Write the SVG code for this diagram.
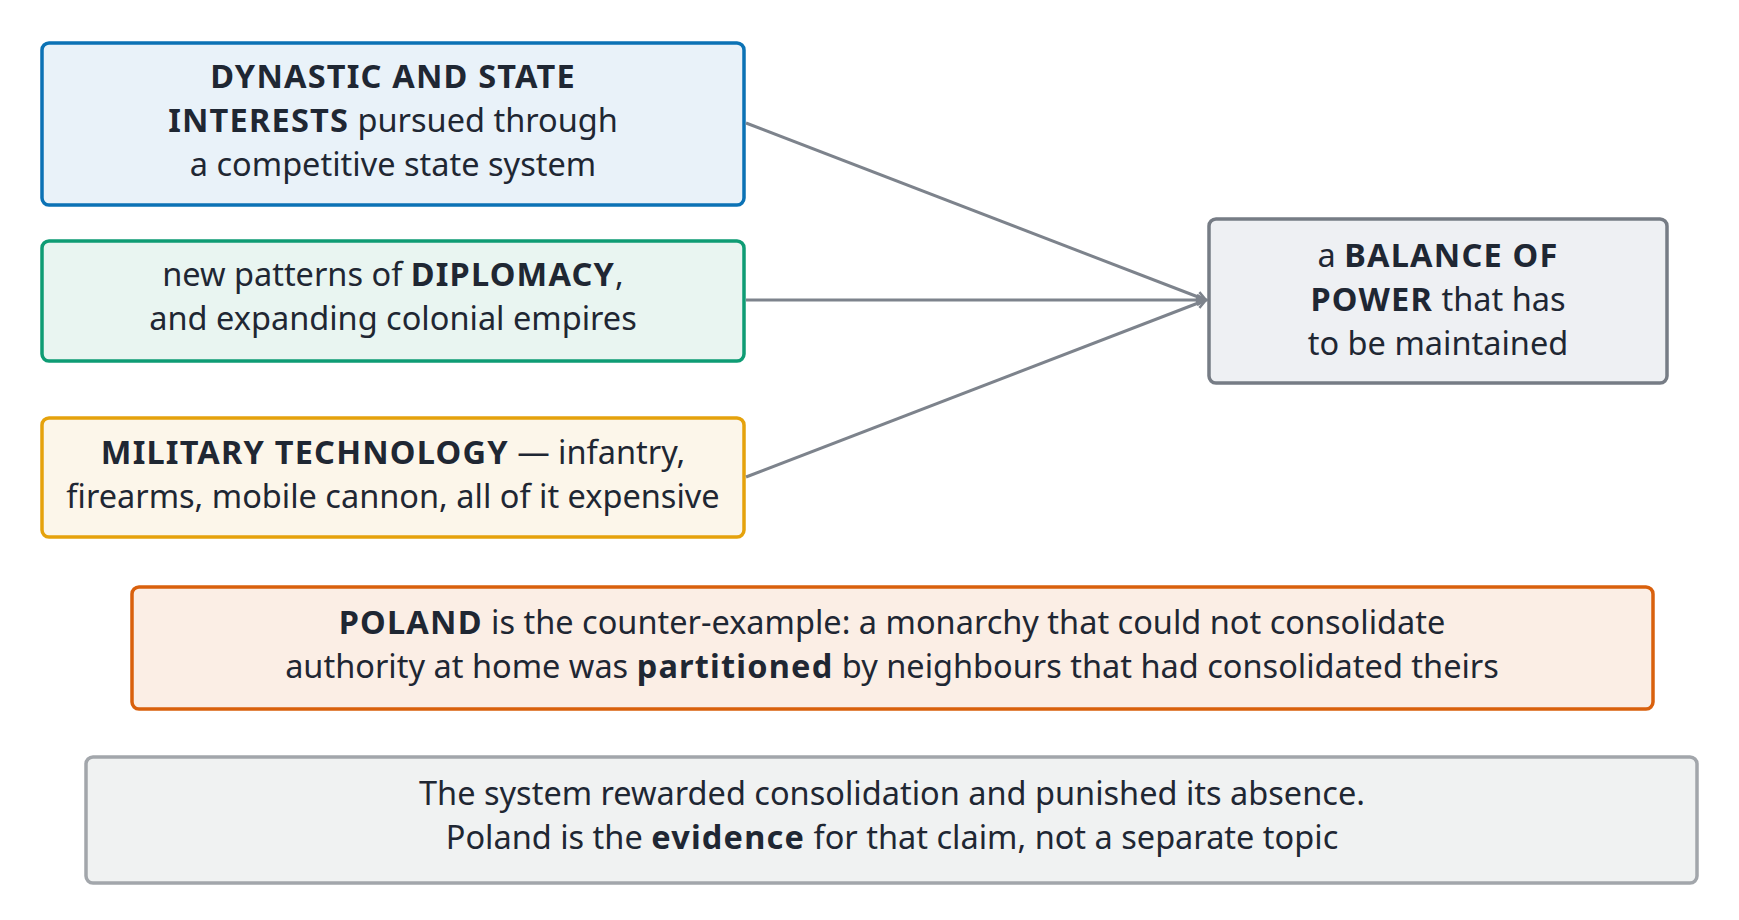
<svg xmlns="http://www.w3.org/2000/svg" width="1739" height="920" viewBox="0 0 1739 920">
<style>
text{font-family:"Noto Sans","Open Sans",sans-serif;font-size:32.5px;fill:#1f2733;text-anchor:middle}
.b{font-weight:bold;letter-spacing:1.2px}
rect{stroke-width:3.5}
.c{stroke:#7d838c;stroke-width:3;fill:none}
</style>
<defs><marker id="a" markerWidth="12" markerHeight="12" refX="10" refY="6" orient="auto" markerUnits="userSpaceOnUse"><path d="M1,1 L10,6 L1,11" fill="none" stroke="#7d838c" stroke-width="2.5"/></marker></defs>
<rect width="1739" height="920" fill="#fff" stroke="none"/>
<g id="n1"><rect x="42" y="43" width="702" height="162" rx="7" fill="#e9f2f9" stroke="#0b72b5"/>
<text x="393" y="88"><tspan class="b">DYNASTIC AND STATE</tspan></text>
<text x="393" y="132"><tspan class="b">INTERESTS</tspan> pursued through</text>
<text x="393" y="176">a competitive state system</text></g>
<g id="n2"><rect x="42" y="241" width="702" height="120" rx="7" fill="#e9f5f1" stroke="#0e9c74"/>
<text x="393" y="286">new patterns of <tspan class="b">DIPLOMACY</tspan>,</text>
<text x="393" y="330">and expanding colonial empires</text></g>
<g id="n3"><rect x="42" y="418" width="702" height="119" rx="7" fill="#fcf6ea" stroke="#e5a20c"/>
<text x="393" y="464"><tspan class="b">MILITARY TECHNOLOGY</tspan> — infantry,</text>
<text x="393" y="508">firearms, mobile cannon, all of it expensive</text></g>
<g id="n4"><rect x="1209" y="219" width="458" height="164" rx="7" fill="#eef0f3" stroke="#767c85"/>
<text x="1438" y="267">a <tspan class="b">BALANCE OF</tspan></text>
<text x="1438" y="311"><tspan class="b">POWER</tspan> that has</text>
<text x="1438" y="355">to be maintained</text></g>
<g id="n5"><rect x="132" y="587" width="1521" height="122" rx="7" fill="#fbeee5" stroke="#d9600c"/>
<text x="892" y="634"><tspan class="b">POLAND</tspan> is the counter-example: a monarchy that could not consolidate</text>
<text x="892" y="678">authority at home was <tspan class="b">partitioned</tspan> by neighbours that had consolidated theirs</text></g>
<g id="n6"><rect x="86" y="757" width="1611" height="126" rx="7" fill="#f0f2f2" stroke="#a2a6ab" stroke-width="2.5"/>
<text x="892" y="805">The system rewarded consolidation and punished its absence.</text>
<text x="892" y="849">Poland is the <tspan class="b">evidence</tspan> for that claim, not a separate topic</text></g>
<g id="connectors">
<path class="c" d="M746,123 L1206,300" marker-end="url(#a)"/>
<path class="c" d="M746,300 L1206,300" marker-end="url(#a)"/>
<path class="c" d="M746,477 L1206,300" marker-end="url(#a)"/>
</g>
</svg>
